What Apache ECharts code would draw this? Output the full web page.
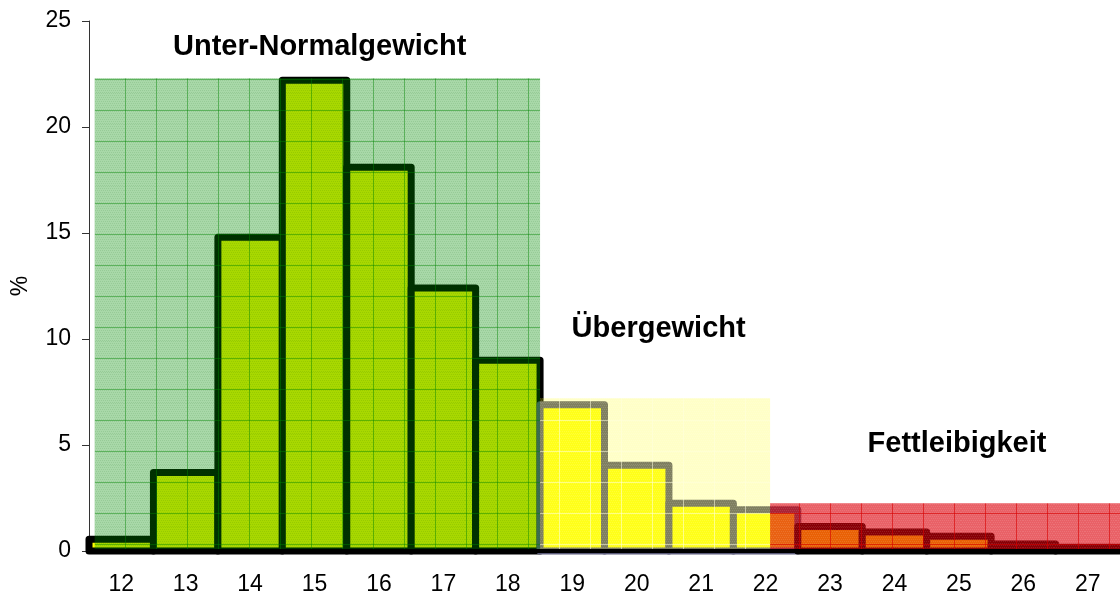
<!DOCTYPE html>
<html>
<head>
<meta charset="utf-8">
<script src="https://cdn.jsdelivr.net/npm/echarts@6/dist/echarts.min.js"></script>
<style>
  html, body { margin: 0; padding: 0; background: #fff; }
  #chart { width: 1120px; height: 596px; }
</style>
</head>
<body>
<div id="chart"></div>
<script>
// BMI-Klassen (x) und Anteil in %
const categories = ['12', '13', '14', '15', '16', '17', '18', '19', '20', '21', '22', '23', '24', '25', '26', '27']
const percent = [0.55, 3.7, 14.8, 22.2, 18.1, 12.4, 9.0, 6.9, 4.05, 2.25, 1.95, 1.15, 0.9, 0.7, 0.33, 0.18]
const yTicks = [0, 5, 10, 15, 20, 25]

// Bereiche (in Kategorie-Index, Wert = Hoehe des Feldes)
const zoneNames = ['Unter-Normalgewicht', 'Übergewicht', 'Fettleibigkeit']
const zoneStart = [-0.41, 6.5, 10.07]
const zoneEnd = [6.5, 10.07, 15.5]
const zoneTop = [22.3, 7.2, 2.25]
const zoneLabelX = [3.08, 8.34, 12.97]
const zoneLabelY = [23.78, 10.45, 5.03]

function makePattern(fill, dot, line, ox, oy) {
  const size = 31
  const c = document.createElement('canvas')
  c.width = size
  c.height = size
  const ctx = c.getContext('2d')
  ctx.fillStyle = fill
  ctx.fillRect(0, 0, size, size)
  ctx.fillStyle = dot
  for (let y = 0; y < size; y += 2) {
    for (let x = (y / 2) % 2; x < size; x += 2) {
      ctx.fillRect(x, y, 1, 1)
    }
  }
  ctx.fillStyle = line
  ctx.fillRect(ox, 0, 1, size)
  ctx.fillRect(0, oy, size, 1)
  return { image: c, repeat: 'repeat' }
}

const zonePatterns = [
  makePattern('rgba(0,140,0,0.34)', 'rgba(0,90,0,0.10)', 'rgba(0,130,0,0.45)', 1, 17),
  makePattern('rgba(255,255,0,0.22)', 'rgba(255,255,255,0.12)', 'rgba(255,255,220,0.55)', 1, 17),
  makePattern('rgba(220,0,10,0.62)', 'rgba(255,255,255,0.10)', 'rgba(215,0,0,0.6)', 24, 17)
]

const chart = echarts.init(document.getElementById('chart'))

const labelFont = 'Liberation Sans, Arial'

const option = {
  animation: false,
  grid: { top: 21, bottom: 44, left: 89, right: 0, containLabel: false },
  xAxis: {
    type: 'category',
    data: categories,
    z: 10,
    axisLine: { lineStyle: { color: '#000', width: 4 } },
    axisTick: { length: 7, lineStyle: { color: '#666', width: 1 } },
    axisLabel: { color: '#000', fontSize: 23, fontFamily: labelFont, margin: 22 }
  },
  yAxis: {
    type: 'value',
    min: yTicks[0],
    max: yTicks[yTicks.length - 1],
    interval: 5,
    name: '%',
    nameLocation: 'middle',
    nameGap: 57,
    nameRotate: 90,
    nameTextStyle: { color: '#000', fontSize: 23, fontFamily: labelFont },
    axisLine: { show: true, lineStyle: { color: '#333', width: 1 } },
    axisTick: { show: true, length: 7, lineStyle: { color: '#333' } },
    axisLabel: { color: '#000', fontSize: 23, fontFamily: labelFont, margin: 18 },
    splitLine: { show: false }
  },
  series: [
    {
      type: 'custom',
      z: 2,
      silent: true,
      data: percent.map((v, i) => [i, v]),
      renderItem: function (params, api) {
        const i = params.dataIndex
        const top = api.coord([api.value(0), api.value(1)])
        const base = api.coord([api.value(0), 0])
        const bw = api.size([1, 0])[0]
        const c = Number(categories[i])
        const mid = c >= 19 && c <= 22
        return {
          type: 'rect',
          shape: { x: top[0] - bw / 2, y: top[1], width: bw, height: base[1] - top[1] },
          style: {
            fill: mid ? '#ffff20' : '#ffff00',
            stroke: mid ? '#5c5c7b' : '#000000',
            lineWidth: 7,
            lineJoin: 'round'
          }
        }
      }
    },
    {
      type: 'custom',
      z: 5,
      silent: true,
      data: zoneNames.map((n, i) => [i, zoneTop[i]]),
      renderItem: function (params, api) {
        const i = params.dataIndex
        const c0 = api.coord([0, 0])
        const bw = api.size([1, 0])[0]
        const x0 = c0[0] + zoneStart[i] * bw
        const x1 = c0[0] + zoneEnd[i] * bw
        const yTop = api.coord([0, zoneTop[i]])[1]
        const yBase = c0[1]
        const lx = c0[0] + zoneLabelX[i] * bw
        const ly = api.coord([0, zoneLabelY[i]])[1]
        return {
          type: 'group',
          children: [
            {
              type: 'rect',
              shape: { x: x0, y: yTop, width: x1 - x0, height: yBase - yTop },
              style: { fill: zonePatterns[i] }
            },
            {
              type: 'text',
              x: lx,
              y: ly,
              style: {
                text: zoneNames[i],
                fill: '#000',
                font: 'bold 29px "Liberation Sans", Arial, sans-serif',
                align: 'center',
                verticalAlign: 'middle'
              }
            }
          ]
        }
      }
    }
  ]
}

chart.setOption(option)
</script>
</body>
</html>
